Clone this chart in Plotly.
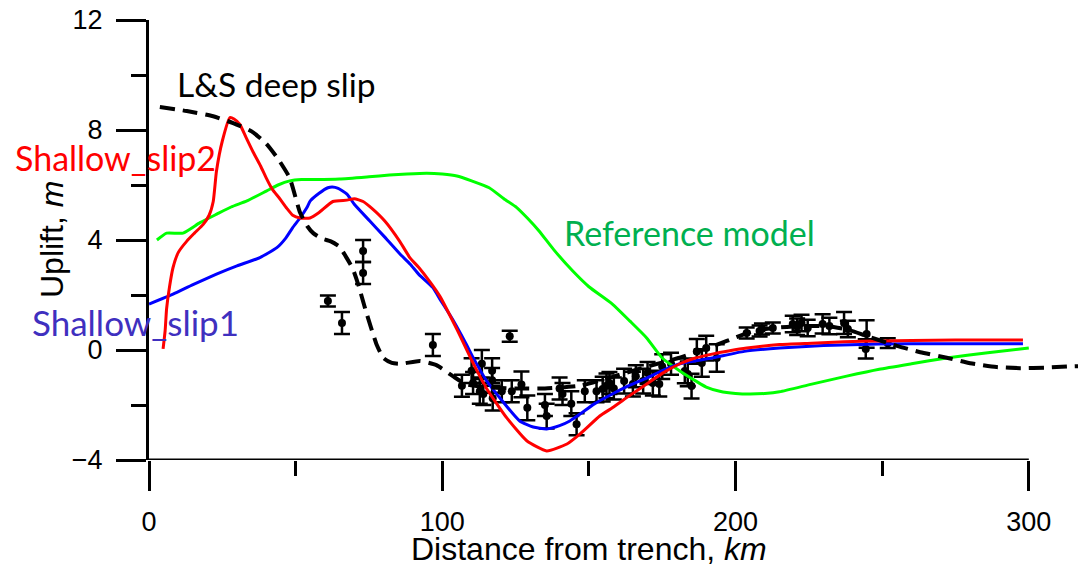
import plotly.graph_objects as go

# ---------------- data ----------------
ls_x = [3.7, 12.9, 21.9, 28.7, 35, 40, 44, 48, 51.5, 54, 56, 59, 62, 65, 67.4, 69.5, 71.3, 74, 77.6, 80,
        82.8, 86, 92.4, 98, 103.6, 108, 115, 125, 135, 147, 154, 162, 170, 181, 190, 197, 206, 213, 222,
        231, 238, 244.7, 255, 263, 272, 280, 289, 297, 306, 313, 319.5]
ls_y = [8.84, 8.69, 8.5, 8.25, 7.95, 7.5, 6.95, 6.25, 5.0, 4.5, 4.25, 4.05, 3.95, 3.75, 3.35, 2.95, 2.4,
        1.4, 0.2, -0.3, -0.47, -0.5, -0.4, -0.55, -0.95, -1.24, -1.35, -1.4, -1.4, -1.3, -1.1, -0.85, -0.6,
        -0.28, 0.05, 0.33, 0.69, 0.8, 0.87, 0.87, 0.75, 0.51, 0.15, -0.08, -0.28, -0.48, -0.62, -0.66,
        -0.64, -0.6, -0.58]

s2_x = [4.8, 5.5, 6, 7, 8.2, 10, 12.9, 15.5, 18.5, 20.5, 21.9, 23, 25, 27.6, 29, 31, 33, 35.5, 38, 40, 42,
        44.6, 47, 49, 51.5, 54.9, 58, 62.7, 67.5, 70, 73, 76, 80.4, 85.5, 89, 92, 96, 99.2, 105, 110.4,
        115, 122, 128.8, 135.6, 142.5, 147, 153.7, 158, 164, 169.7, 175, 181, 186, 192, 198, 203.8, 215,
        226, 237, 249, 260, 275, 298]
s2_y = [0.04, 0.7, 1.5, 2.3, 3.0, 3.55, 3.96, 4.25, 4.57, 4.9, 5.4, 6.5, 7.6, 8.45, 8.4, 8.2, 7.75, 7.2,
        6.7, 6.25, 5.85, 5.5, 5.15, 4.9, 4.8, 4.8, 5.0, 5.4, 5.45, 5.5, 5.4, 5.15, 4.69, 3.95, 3.35, 3.0,
        2.45, 1.95, 0.75, -0.45, -1.38, -2.47, -3.3, -3.67, -3.42, -3.05, -2.4, -2.1, -1.65, -1.24, -0.85,
        -0.5, -0.3, -0.15, -0.03, 0.07, 0.2, 0.25, 0.3, 0.33, 0.35, 0.36, 0.36]

s1_x = [0, 8.2, 15, 23, 30, 37.8, 43.6, 46.5, 49, 51.5, 53.8, 55, 58, 61, 62.5, 64.5, 67.5, 70, 75.3, 80,
        85.5, 89, 92, 96.8, 99.2, 103.6, 108, 110.4, 115, 119.6, 126.4, 131, 135.6, 140, 143.5, 147, 152,
        158, 164, 169.7, 175, 181, 192, 203, 215, 230, 249, 270, 298]
s1_y = [1.67, 2.03, 2.38, 2.76, 3.06, 3.36, 3.72, 4.05, 4.45, 4.8, 5.17, 5.42, 5.7, 5.9, 5.93, 5.88, 5.67,
        5.3, 4.69, 4.15, 3.5, 3.13, 2.75, 2.27, 1.85, 1.1, 0.25, -0.25, -1.1, -1.74, -2.58, -2.8, -2.87,
        -2.75, -2.58, -2.33, -1.95, -1.6, -1.28, -1.02, -0.75, -0.5, -0.29, -0.05, 0.07, 0.16, 0.22, 0.23,
        0.23]

ref_x = [2.7, 6, 11.6, 17.4, 23.1, 28, 33.4, 40, 44, 48, 52, 57, 65, 75, 82, 88, 94.7, 100, 105, 110, 116,
         121, 125.4, 129, 133, 138, 144.5, 150, 158, 164, 169.7, 175, 181, 186.8, 190, 194.6, 200, 205,
         210, 215, 226, 237.9, 249, 260, 272, 286, 300]
ref_y = [4.0, 4.25, 4.25, 4.63, 4.94, 5.2, 5.42, 5.78, 6.0, 6.15, 6.2, 6.2, 6.22, 6.3, 6.36, 6.4, 6.43, 6.4,
         6.33, 6.15, 5.9, 5.5, 5.18, 4.8, 4.33, 3.65, 2.87, 2.3, 1.67, 1.05, 0.44, -0.29, -0.76, -1.15,
         -1.35, -1.5, -1.58, -1.6, -1.58, -1.52, -1.24, -0.95, -0.7, -0.5, -0.29, -0.1, 0.07]

obs_x = [61, 65.8, 73, 73, 96.8, 123, 106.7, 110, 110.5, 113.5, 112.8, 114, 117, 117, 117.2, 120.3, 123.7,
         127, 129, 135, 135.6, 140, 141, 144, 145.8, 148.6, 152.6, 154.7, 156, 157, 158.5, 162, 165, 166,
         168.5, 170, 171.8, 174, 175, 178, 182.7, 183.7, 185, 186.8, 188.5, 190, 193.6, 203.8, 208.2,
         209, 212.7, 219.5, 221, 222.5, 224.6, 229.7, 232, 237, 238.3, 244.7, 244.4, 251.9]
obs_y = [1.78, 0.98, 3.6, 2.8, 0.18, 0.5, -1.3, -0.75, -1.2, -0.5, -1.5, -1.6, -0.75, -1.1, -1.75, -1.5,
         -1.5, -1.25, -2.1, -2.0, -2.4, -1.4, -1.6, -1.95, -2.7, -1.5, -1.5, -1.42, -1.3, -1.2, -1.4,
         -1.13, -1.24, -0.95, -1.13, -0.84, -1.2, -1.24, -0.6, -0.5, -0.76, -0.87, -1.31, -0.05, -0.47,
         0.07, -0.29, 0.62, 0.69, 0.76, 0.8, 0.95, 0.85, 0.98, 0.8, 0.95, 0.87, 0.98, 0.76, 0.58, 0.04,
         0.25]
obs_err = [0.2, 0.4, 0.4, 0.4, 0.4, 0.2, 0.4, 0.45, 0.4, 0.5, 0.45, 0.4, 0.45, 0.45, 0.45, 0.4, 0.4, 0.47,
           0.45, 0.4, 0.45, 0.4, 0.4, 0.45, 0.4, 0.4, 0.4, 0.45, 0.45, 0.4, 0.4, 0.45, 0.45, 0.4, 0.45,
           0.4, 0.45, 0.45, 0.45, 0.4, 0.45, 0.45, 0.45, 0.45, 0.5, 0.45, 0.5, 0.2, 0.2, 0.2, 0.2, 0.3,
           0.3, 0.3, 0.3, 0.35, 0.3, 0.4, 0.3, 0.5, 0.35, 0.18]

x_ticks = [0, 100, 200, 300]
y_ticks = [-4, 0, 4, 8, 12]
X_AXIS_END = 300

# ---------------- figure ----------------
fig = go.Figure()

fig.add_trace(go.Scatter(x=obs_x, y=obs_y, mode="markers",
                         marker=dict(color="black", size=8),
                         error_y=dict(type="data", array=obs_err, color="black", thickness=2.5, width=8),
                         showlegend=False))
fig.add_trace(go.Scatter(x=ref_x, y=ref_y, mode="lines", line=dict(color="#00FF00", width=3, shape="spline", smoothing=0.5),
                         showlegend=False))
fig.add_trace(go.Scatter(x=s1_x, y=s1_y, mode="lines", line=dict(color="#0000FF", width=3, shape="spline", smoothing=0.5),
                         showlegend=False))
fig.add_trace(go.Scatter(x=s2_x, y=s2_y, mode="lines", line=dict(color="#FF0000", width=3, shape="spline", smoothing=0.5),
                         showlegend=False))
fig.add_trace(go.Scatter(x=ls_x, y=ls_y, mode="lines",
                         line=dict(color="black", width=4, dash="15px,8px", shape="spline", smoothing=0.5),
                         showlegend=False))

tick_font = dict(family="Liberation Sans, Arial, sans-serif", size=27, color="black")
label_font = "Lato, Open Sans, sans-serif"

# the page body adds an 8 px offset, so the figure is 8 px smaller than the window
fig.update_layout(
    width=1078, height=565,
    margin=dict(l=141, r=0, t=12, b=113, autoexpand=False),
    paper_bgcolor="white", plot_bgcolor="white",
    xaxis=dict(range=[0, 319.5], tickvals=x_ticks, ticks="outside", ticklen=30, tickwidth=3,
               tickcolor="black", showline=False, showgrid=False, zeroline=False, automargin=False,
               tickfont=tick_font, ticklabelstandoff=8, ticklabeloverflow="allow",
               minor=dict(dtick=50, tick0=0, ticks="outside", ticklen=15, tickwidth=3, tickcolor="black",
                          showgrid=False)),
    yaxis=dict(range=[-4, 12], tickvals=y_ticks, ticks="outside", ticklen=30, tickwidth=3,
               tickcolor="black", showline=True, linewidth=3, linecolor="black", showgrid=False,
               zeroline=False, automargin=False, tickfont=tick_font, ticklabelstandoff=8,
               ticklabeloverflow="allow",
               minor=dict(dtick=2, tick0=0, ticks="outside", ticklen=15, tickwidth=3, tickcolor="black",
                          showgrid=False)),
    shapes=[dict(type="line", xref="x", yref="y", x0=0, x1=X_AXIS_END, y0=-4, y1=-4,
                 line=dict(color="black", width=3))],
)

annotations = [
    dict(text="Distance from trench, <i>km</i>", xref="x", yref="paper", x=150, y=-0.203,
         xanchor="center", yanchor="middle", showarrow=False,
         font=dict(family="Liberation Sans, Arial, sans-serif", size=32, color="black")),
    dict(text="Uplift, <i>m</i>", xref="paper", yref="paper", x=-0.1035, y=0.5, textangle=-90,
         xanchor="center", yanchor="middle", showarrow=False,
         font=dict(family="Liberation Sans, Arial, sans-serif", size=32, color="black")),
    dict(text="L&amp;S deep slip", xref="paper", yref="paper", x=(175 - 149) / 937, y=(460 - 84) / 440,
         xanchor="left", yanchor="middle", showarrow=False,
         font=dict(family=label_font, size=33.5, color="black")),
    dict(text="Shallow_slip2", xref="paper", yref="paper", x=(13 - 149) / 937, y=(460 - 158) / 440,
         xanchor="left", yanchor="middle", showarrow=False,
         font=dict(family=label_font, size=34, color="#FF0000")),
    dict(text="Shallow_slip1", xref="paper", yref="paper", x=(30 - 149) / 937, y=(460 - 322) / 440,
         xanchor="left", yanchor="middle", showarrow=False,
         font=dict(family=label_font, size=35, color="#3F30BF")),
    dict(text="Reference model", xref="paper", yref="paper", x=(562 - 149) / 937, y=(460 - 232) / 440,
         xanchor="left", yanchor="middle", showarrow=False,
         font=dict(family=label_font, size=34, color="#00B050")),
]
fig.update_layout(annotations=annotations)

fig.write_html("out.html")
